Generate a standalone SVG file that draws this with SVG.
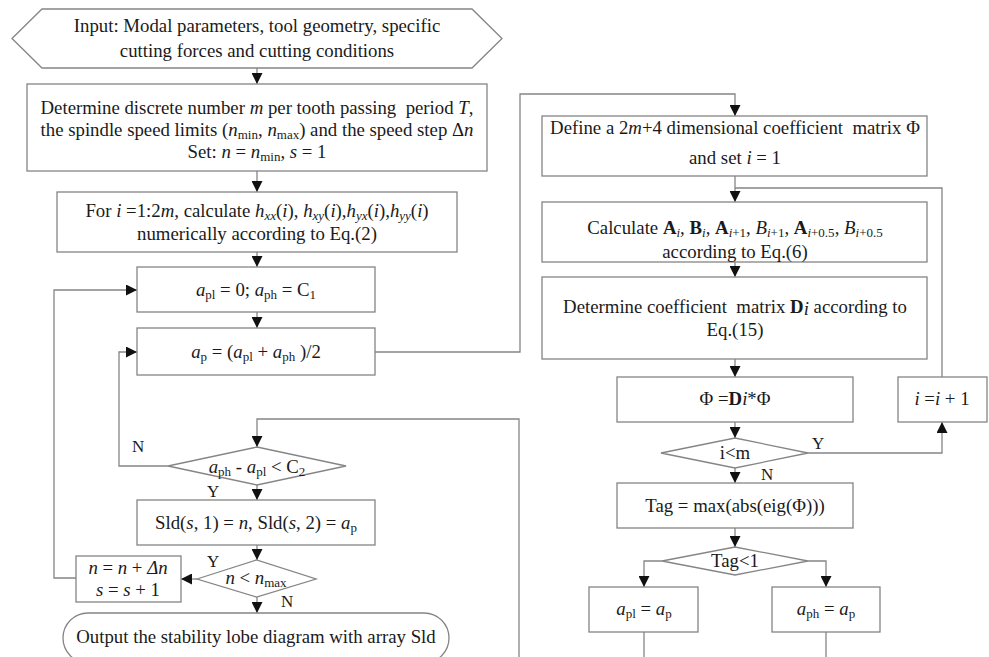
<svg xmlns="http://www.w3.org/2000/svg" width="989" height="657" viewBox="0 0 989 657">
<defs>
<style>
.b{fill:#fff;stroke:#858585;stroke-width:1.3}
.c{fill:none;stroke:#858585;stroke-width:1.3}
text{font-family:"Liberation Serif","Times New Roman",serif;font-size:18.8px;fill:#1a1a1a;text-anchor:middle;white-space:pre}
.i{font-style:italic}
.bd{font-weight:bold}
.s{font-size:13px}
.lb{font-size:17px;text-anchor:start}
</style>
<marker id="ah" viewBox="0 0 11 11" refX="11" refY="5.5" markerWidth="11" markerHeight="11" markerUnits="userSpaceOnUse" orient="auto"><path d="M0,0 L11,5.5 L0,11 z" fill="#111"/></marker>
</defs>
<rect width="989" height="657" fill="#fff"/>
<g id="connectors">
<path class="c" d="M257,68 V84" marker-end="url(#ah)"/>
<path class="c" d="M257,171 V192" marker-end="url(#ah)"/>
<path class="c" d="M257,252 V267" marker-end="url(#ah)"/>
<path class="c" d="M257,312 V328" marker-end="url(#ah)"/>
<path class="c" d="M375,352 H520 V94 H735 V116" marker-end="url(#ah)"/>
<path class="c" d="M168,466 H119 V352 H137" marker-end="url(#ah)"/>
<path class="c" d="M257,485 V500" marker-end="url(#ah)"/>
<path class="c" d="M257,545 V560" marker-end="url(#ah)"/>
<path class="c" d="M197,579 H181" marker-end="url(#ah)"/>
<path class="c" d="M76,578 H54 V290 H137" marker-end="url(#ah)"/>
<path class="c" d="M257,597 V613" marker-end="url(#ah)"/>
<path class="c" d="M519,657 V419 H257 V447" marker-end="url(#ah)"/>
<path class="c" d="M735,176 V202" marker-end="url(#ah)"/>
<path class="c" d="M735,262 V277" marker-end="url(#ah)"/>
<path class="c" d="M735,359 V377" marker-end="url(#ah)"/>
<path class="c" d="M735,422 V438" marker-end="url(#ah)"/>
<path class="c" d="M808,453 H942 V422" marker-end="url(#ah)"/>
<path class="c" d="M942,377 V188 H735"/>
<path class="c" d="M735,468 V483" marker-end="url(#ah)"/>
<path class="c" d="M735,528 V547" marker-end="url(#ah)"/>
<path class="c" d="M662,561 H644 V587" marker-end="url(#ah)"/>
<path class="c" d="M808,561 H826 V587" marker-end="url(#ah)"/>
<path class="c" d="M644,632 V657"/>
<path class="c" d="M826,632 V657"/>
</g>
<g id="labels">
<text class="lb" x="132" y="452">N</text>
<text class="lb" x="207" y="497">Y</text>
<text class="lb" x="207" y="567">Y</text>
<text class="lb" x="281" y="607">N</text>
<text class="lb" x="812" y="449">Y</text>
<text class="lb" x="761" y="480">N</text>
</g>
<g id="input">
<polygon class="b" points="12,38.5 42,9 472,9 502,38.5 472,68 42,68"/>
<text x="257" y="32">Input: Modal parameters, tool geometry, specific</text>
<text x="257" y="57">cutting forces and cutting conditions</text>
</g>
<g id="determine">
<rect class="b" x="27" y="84" width="460" height="87"/>
<text x="257" y="114">Determine discrete number <tspan class="i">m</tspan> per tooth passing  period <tspan class="i">T</tspan>,</text>
<text x="257" y="136">the spindle speed limits (<tspan class="i">n</tspan><tspan class="s" dy="3">min</tspan><tspan dy="-3">, </tspan><tspan class="i">n</tspan><tspan class="s" dy="3">max</tspan><tspan dy="-3">) and the speed step Δ</tspan><tspan class="i">n</tspan></text>
<text x="257" y="158">Set: <tspan class="i">n</tspan> = <tspan class="i">n</tspan><tspan class="s" dy="3">min</tspan><tspan dy="-3">, </tspan><tspan class="i">s</tspan> = 1</text>
</g>
<g id="forloop">
<rect class="b" x="57" y="192" width="400" height="60"/>
<text x="257" y="217">For <tspan class="i">i</tspan> =1:2<tspan class="i">m</tspan>, calculate <tspan class="i">h</tspan><tspan class="s i" dy="3">xx</tspan><tspan dy="-3">(</tspan><tspan class="i">i</tspan>), <tspan class="i">h</tspan><tspan class="s i" dy="3">xy</tspan><tspan dy="-3">(</tspan><tspan class="i">i</tspan>),<tspan class="i">h</tspan><tspan class="s i" dy="3">yx</tspan><tspan dy="-3">(</tspan><tspan class="i">i</tspan>),<tspan class="i">h</tspan><tspan class="s i" dy="3">yy</tspan><tspan dy="-3">(</tspan><tspan class="i">i</tspan>)</text>
<text x="257" y="240">numerically according to Eq.(2)</text>
</g>
<g id="init">
<rect class="b" x="137" y="267" width="238" height="45"/>
<text x="256" y="296"><tspan class="i">a</tspan><tspan class="s" dy="3">pl</tspan><tspan dy="-3"> = 0; </tspan><tspan class="i">a</tspan><tspan class="s" dy="3">ph</tspan><tspan dy="-3"> = C</tspan><tspan class="s" dy="3">1</tspan></text>
</g>
<g id="bisect">
<rect class="b" x="137" y="328" width="238" height="47"/>
<text x="256" y="358"><tspan class="i">a</tspan><tspan class="s" dy="3">p</tspan><tspan dy="-3"> = (</tspan><tspan class="i">a</tspan><tspan class="s" dy="3">pl</tspan><tspan dy="-3"> + </tspan><tspan class="i">a</tspan><tspan class="s" dy="3">ph</tspan><tspan dy="-3"> )/2</tspan></text>
</g>
<g id="cond1">
<polygon class="b" points="168,466 257,447 346,466 257,485"/>
<text x="257" y="473"><tspan class="i">a</tspan><tspan class="s" dy="3">ph</tspan><tspan dy="-3"> - </tspan><tspan class="i">a</tspan><tspan class="s" dy="3">pl</tspan><tspan dy="-3"> &lt; C</tspan><tspan class="s" dy="3">2</tspan></text>
</g>
<g id="store">
<rect class="b" x="137" y="500" width="238" height="45"/>
<text x="256" y="529">Sld(<tspan class="i">s</tspan>, 1) = <tspan class="i">n</tspan>, Sld(<tspan class="i">s</tspan>, 2) = <tspan class="i">a</tspan><tspan class="s" dy="3">p</tspan></text>
</g>
<g id="cond2">
<polygon class="b" points="197,579 256.5,560 316,579 256.5,597"/>
<text x="256" y="584"><tspan class="i">n</tspan> &lt; <tspan class="i">n</tspan><tspan class="s" dy="3">max</tspan></text>
</g>
<g id="increment">
<rect class="b" x="76" y="556" width="105" height="46"/>
<text x="128" y="574"><tspan class="i">n</tspan> = <tspan class="i">n</tspan> + <tspan class="i">Δn</tspan></text>
<text x="128" y="596"><tspan class="i">s</tspan> = <tspan class="i">s</tspan> + 1</text>
</g>
<g id="output">
<rect class="b" x="63" y="613" width="386" height="50" rx="25" ry="25"/>
<text x="256" y="643">Output the stability lobe diagram with array Sld</text>
</g>
<g id="define">
<rect class="b" x="542" y="116" width="385" height="60"/>
<text x="735" y="134">Define a 2<tspan class="i">m</tspan>+4 dimensional coefficient  matrix Φ</text>
<text x="735" y="164">and set <tspan class="i">i</tspan> = 1</text>
</g>
<g id="calculate">
<rect class="b" x="542" y="202" width="385" height="60"/>
<text x="735" y="234">Calculate <tspan class="bd">A</tspan><tspan class="s i" dy="3">i</tspan><tspan class="i" dy="-3">, </tspan><tspan class="bd">B</tspan><tspan class="s i" dy="3">i</tspan><tspan dy="-3">, </tspan><tspan class="bd">A</tspan><tspan class="s" dy="3"><tspan class="i">i</tspan>+1</tspan><tspan dy="-3">, </tspan><tspan class="i">B</tspan><tspan class="s" dy="3"><tspan class="i">i</tspan>+1</tspan><tspan dy="-3">, </tspan><tspan class="bd">A</tspan><tspan class="s" dy="3"><tspan class="i">i</tspan>+0.5</tspan><tspan dy="-3">, </tspan><tspan class="i">B</tspan><tspan class="s" dy="3"><tspan class="i">i</tspan>+0.5</tspan></text>
<text x="735" y="258">according to Eq.(6)</text>
</g>
<g id="coefD">
<rect class="b" x="542" y="277" width="385" height="82"/>
<text x="735" y="313">Determine coefficient  matrix <tspan class="bd">D</tspan><tspan class="i" dy="2">i</tspan><tspan dy="-2"> according to</tspan></text>
<text x="735" y="336">Eq.(15)</text>
</g>
<g id="update">
<rect class="b" x="617" y="377" width="236" height="45"/>
<text x="735" y="405">Φ =<tspan class="bd">D</tspan><tspan class="i">i</tspan>*Φ</text>
</g>
<g id="inc-i">
<rect class="b" x="898" y="377" width="89" height="45"/>
<text x="942" y="405"><tspan class="i">i</tspan> =<tspan class="i">i</tspan> + 1</text>
</g>
<g id="cond-i">
<polygon class="b" points="661,453 735,438 808,453 735,468"/>
<text x="735" y="459">i&lt;m</text>
</g>
<g id="tag">
<rect class="b" x="617" y="483" width="236" height="45"/>
<text x="735" y="512">Tag = max(abs(eig(Φ)))</text>
</g>
<g id="cond-tag">
<polygon class="b" points="662,561 735,547 808,561 735,575"/>
<text x="735" y="567">Tag&lt;1</text>
</g>
<g id="low">
<rect class="b" x="589" y="587" width="109" height="45"/>
<text x="644" y="615"><tspan class="i">a</tspan><tspan class="s" dy="3">pl</tspan><tspan dy="-3"> = </tspan><tspan class="i">a</tspan><tspan class="s" dy="3">p</tspan></text>
</g>
<g id="high">
<rect class="b" x="772" y="587" width="108" height="45"/>
<text x="826" y="615"><tspan class="i">a</tspan><tspan class="s" dy="3">ph</tspan><tspan dy="-3"> = </tspan><tspan class="i">a</tspan><tspan class="s" dy="3">p</tspan></text>
</g>
</svg>
